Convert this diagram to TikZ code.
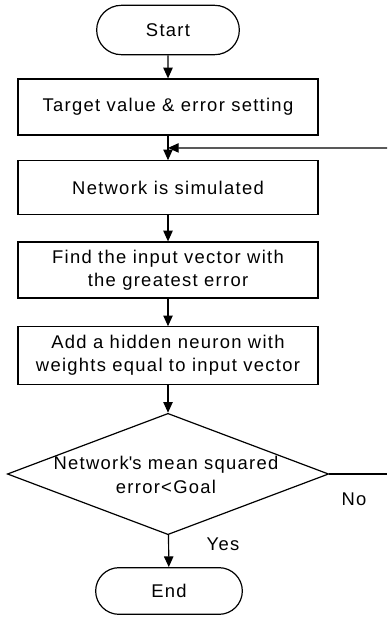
\documentclass[tikz,border=0pt]{standalone}
\usepackage{fontspec}
\setmainfont{Liberation Sans}[LetterSpace=7]
\usetikzlibrary{shapes.geometric,shapes.misc,arrows.meta,calc}
\begin{document}
\begin{tikzpicture}[x=0.75pt,y=-0.75pt,
  every node/.style={font=\fontsize{13.8pt}{17.5pt}\selectfont},
  proc/.style={draw,line width=0.9pt,minimum width=225pt,align=center,inner sep=0pt},
  term/.style={draw,line width=0.9pt,rounded rectangle,inner sep=0pt},
  flow/.style={line width=0.9pt,-{Triangle[length=8pt,width=7pt]}},
  plain/.style={line width=0.9pt}]
\useasboundingbox (0,0) rectangle (387,617);
\node[term,minimum width=107pt,minimum height=37pt] (start) at (168,30) {Start};
\node[proc,minimum height=42pt] (b1) at (168,107) {Target value \& error setting};
\node[proc,minimum height=40pt] (b2) at (168,187.5) {Network is simulated};
\node[proc,minimum height=42pt] (b3) at (168,270) {Find the input vector with\\the greatest error};
\node[proc,minimum height=43pt] (b4) at (168,355.5) {Add a hidden neuron with\\weights equal to input vector};
\node[draw,line width=0.9pt,diamond,minimum width=241pt,minimum height=91pt,inner sep=0pt] (dec) at (168,474) {};
\node[align=center] (dectext) at (166,475) {Network\textquotesingle s mean squared\\error<Goal};
\node[term,minimum width=110pt,minimum height=35pt] (end) at (169,591) {End};
\node (no) at (354,499) {No};
\node (yes) at (223,544) {Yes};
\coordinate (fbstart) at (387,148);
\coordinate (join) at ($(b1.south)!0.5!(b2.north)$);
\coordinate (noend) at (387,474);
\draw[flow] (start) -- (b1);
\draw[flow] (b1) -- (b2);
\draw[flow] (fbstart) -- (join);
\draw[flow] (b2) -- (b3);
\draw[flow] (b3) -- (b4);
\draw[flow] (b4) -- (dec);
\draw[plain] (dec.east) -- (noend);
\draw[flow] (dec) -- (end);
\end{tikzpicture}
\end{document}
